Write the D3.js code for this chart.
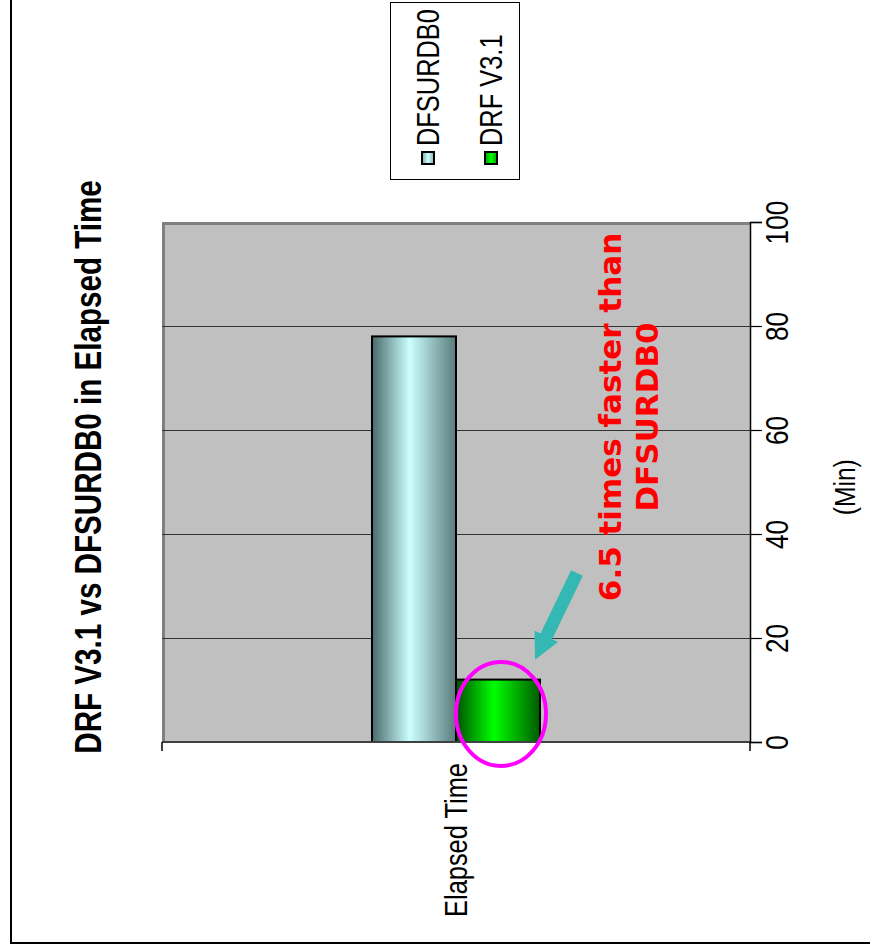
<!DOCTYPE html>
<html>
<head>
<meta charset="utf-8">
<script src="https://cdn.jsdelivr.net/npm/d3@7"></script>
<style>
  body { margin: 0; background: #fff; }
  svg { display: block; }
  .narrow { font-family: "Liberation Sans Narrow", "Arial Narrow", "Liberation Sans", Arial, sans-serif; }
</style>
</head>
<body>
<div id="chart"></div>
<script>
// chart data
var categories = ["Elapsed Time"];
var seriesNames = ["DFSURDB0", "DRF V3.1"];
var seriesValues = [78, 12];
var tickValues = [0, 20, 40, 60, 80, 100];

window.onload = function () {
    var width = 870, height = 952;

    // squeeze factor to fake a narrow font
    var squeeze = 0.82;

    var svg = d3.select("#chart").append("svg")
        .attr("width", width).attr("height", height);

    // outer frame (only left + bottom visible)
    svg.append("rect")
        .attr("x", 11).attr("y", -10)
        .attr("width", width + 20).attr("height", 953)
        .attr("fill", "#fff").attr("stroke", "#000").attr("stroke-width", 2);

    // gradients for bars
    var defs = svg.append("defs");
    var gradStops = [
        [["0", "#4a6a6a"], ["0.45", "#ccffff"], ["1", "#5a7a7a"]],
        [["0", "#005000"], ["0.45", "#00ff00"], ["1", "#005a00"]]
    ];
    var legendStops = [
        [["0", "#7fa0a0"], ["0.5", "#ccffff"], ["1", "#8fb0b0"]],
        [["0", "#00a000"], ["0.5", "#00ff00"], ["1", "#00a000"]]
    ];
    gradStops.forEach(function (stops, i) {
        var g = defs.append("linearGradient").attr("id", "bar" + i)
            .attr("x1", "0").attr("x2", "1").attr("y1", "0").attr("y2", "0");
        stops.forEach(function (s) {
            g.append("stop").attr("offset", s[0]).attr("stop-color", s[1]);
        });
    });
    legendStops.forEach(function (stops, i) {
        var g = defs.append("linearGradient").attr("id", "leg" + i)
            .attr("x1", "0").attr("x2", "1").attr("y1", "0").attr("y2", "0");
        stops.forEach(function (s) {
            g.append("stop").attr("offset", s[0]).attr("stop-color", s[1]);
        });
    });

    // plot area bounds
    var left = 162, right = 750, top = 222, bottom = 742;

    var y = d3.scaleLinear().domain([0, 100]).range([bottom, top]);

    // gap width 250% like excel
    var x = d3.scaleBand().domain(categories).range([left, right])
        .paddingInner(0).paddingOuter(0);
    var groupWidth = x.bandwidth() / 3.5;
    var x1 = d3.scaleBand().domain(seriesNames).range([0, groupWidth]);

    // plot background
    svg.append("rect")
        .attr("x", left).attr("y", top)
        .attr("width", right - left).attr("height", bottom - top)
        .attr("fill", "#c0c0c0");
    svg.append("path")
        .attr("d", "M" + (left + 1.5) + "," + bottom + "V" + (top + 1.5) + "H" + right)
        .attr("fill", "none").attr("stroke", "#808080").attr("stroke-width", 3);

    // gridlines
    svg.append("g").selectAll("line")
        .data(tickValues.filter(function (d) { return d > 0 && d < 100; }))
        .enter().append("line")
        .attr("x1", left).attr("x2", right)
        .attr("y1", function (d) { return Math.round(y(d)) + 0.5; })
        .attr("y2", function (d) { return Math.round(y(d)) + 0.5; })
        .attr("stroke", "#333").attr("stroke-width", 1.2);

    // bars
    var groupStart = function (c) { return x(c) + (x.bandwidth() - groupWidth) / 2; };
    svg.append("g").selectAll("rect")
        .data(seriesValues)
        .enter().append("rect")
        .attr("x", function (d, i) { return groupStart(categories[0]) + x1(seriesNames[i]); })
        .attr("y", function (d) { return y(d); })
        .attr("width", x1.bandwidth())
        .attr("height", function (d) { return y(0) - y(d); })
        .attr("fill", function (d, i) { return "url(#bar" + i + ")"; })
        .attr("stroke", "#000").attr("stroke-width", 2);

    // category axis line
    svg.append("line")
        .attr("x1", left).attr("x2", right)
        .attr("y1", bottom).attr("y2", bottom)
        .attr("stroke", "#404040").attr("stroke-width", 2);
    svg.append("line")
        .attr("x1", right).attr("x2", right)
        .attr("y1", bottom).attr("y2", bottom + 9)
        .attr("stroke", "#000").attr("stroke-width", 1.5);
    svg.append("line")
        .attr("x1", left).attr("x2", left)
        .attr("y1", bottom).attr("y2", bottom + 9)
        .attr("stroke", "#000").attr("stroke-width", 1.5);

    // value axis on the right
    var yAxis = d3.axisRight(y).tickValues(tickValues).tickSize(12).tickFormat(d3.format("d"));
    var ag = svg.append("g").attr("transform", "translate(" + right + ",0)").call(yAxis);
    ag.select(".domain").attr("stroke", "#000").attr("stroke-width", 1.5);
    ag.selectAll(".tick line").attr("stroke", "#000").attr("stroke-width", 1.2);
    ag.selectAll(".tick text")
        .attr("class", "narrow")
        .attr("x", 0).attr("dy", null)
        .attr("transform", "translate(27,0) rotate(-90) scale(" + squeeze + ",1)")
        .attr("text-anchor", "middle")
        .attr("dominant-baseline", "central")
        .style("font-size", "32px")
        .attr("fill", "#000");

    // value axis title
    svg.append("text").attr("class", "narrow")
        .attr("transform", "translate(" + (right + 95) + "," + y(49) + ") rotate(-90) scale(" + squeeze + ",1)")
        .attr("text-anchor", "middle").attr("dominant-baseline", "central")
        .style("font-size", "30px").text("(Min)");

    // category label
    svg.append("text").attr("class", "narrow")
        .data(categories)
        .attr("transform", function (d) {
            return "translate(" + (x(d) + x.bandwidth() / 2) + "," + (bottom + 98) + ") rotate(-90) scale(" + squeeze + ",1)";
        })
        .attr("text-anchor", "middle").attr("dominant-baseline", "central")
        .style("font-size", "31px").text(function (d) { return d; });

    // title
    svg.append("text").attr("class", "narrow")
        .attr("transform", "translate(88,467) rotate(-90) scale(0.8,1)")
        .attr("text-anchor", "middle").attr("dominant-baseline", "central")
        .style("font-size", "37px").style("font-weight", "bold")
        .text("DRF V3.1 vs DFSURDB0 in Elapsed Time");

    // legend
    var legend = svg.append("g");
    legend.append("rect")
        .attr("x", 390.5).attr("y", 2.5).attr("width", 129).attr("height", 177)
        .attr("fill", "#fff").attr("stroke", "#000").attr("stroke-width", 1);
    var legX = [428, 491];
    seriesNames.forEach(function (name, i) {
        legend.append("rect")
            .attr("x", legX[i] - 6).attr("y", 152).attr("width", 12).attr("height", 12)
            .attr("fill", "url(#leg" + i + ")").attr("stroke", "#000").attr("stroke-width", 2);
        legend.append("text").attr("class", "narrow")
            .attr("transform", "translate(" + legX[i] + ",146) rotate(-90) scale(" + squeeze + ",1)")
            .attr("text-anchor", "start").attr("dominant-baseline", "central")
            .style("font-size", "31px").text(name);
    });

    // annotation: circle around the faster bar
    var drfX = groupStart(categories[0]) + x1(seriesNames[1]);
    svg.append("ellipse")
        .attr("cx", drfX + x1.bandwidth() / 2 + 3).attr("cy", y(seriesValues[1] * 0.45))
        .attr("rx", 45).attr("ry", 52)
        .attr("fill", "none").attr("stroke", "#ff00ff").attr("stroke-width", 4);

    // annotation arrow
    var ax0 = drfX + x1.bandwidth() + 37, ay0 = y(32.5);
    var ax1 = drfX + x1.bandwidth() - 5, ay1 = y(15.8);
    var ang = Math.atan2(ay1 - ay0, ax1 - ax0);
    var len = Math.hypot(ax1 - ax0, ay1 - ay0);
    var shaftW = 6.5, headW = 13, headL = 26;
    var pts = [
        [0, -shaftW], [len - headL, -shaftW], [len - headL, -headW],
        [len, 0], [len - headL, headW], [len - headL, shaftW], [0, shaftW]
    ];
    svg.append("path")
        .attr("d", d3.line()(pts))
        .attr("transform", "translate(" + ax0 + "," + ay0 + ") rotate(" + (ang * 180 / Math.PI) + ")")
        .attr("fill", "#33b8b3");

    // annotation text
    var note = svg.append("text")
        .attr("transform", "translate(610,417) rotate(-90)")
        .attr("text-anchor", "middle")
        .style("font-family", "Verdana, 'DejaVu Sans', sans-serif")
        .style("font-weight", "bold").style("font-size", "31px")
        .attr("fill", "#ff0000");
    note.append("tspan").attr("x", 0).attr("dy", "0.35em").text("6.5 times faster than");
    note.append("tspan").attr("x", 0).attr("dy", "1.2em").text("DFSURDB0");
};
</script>
</body>
</html>
